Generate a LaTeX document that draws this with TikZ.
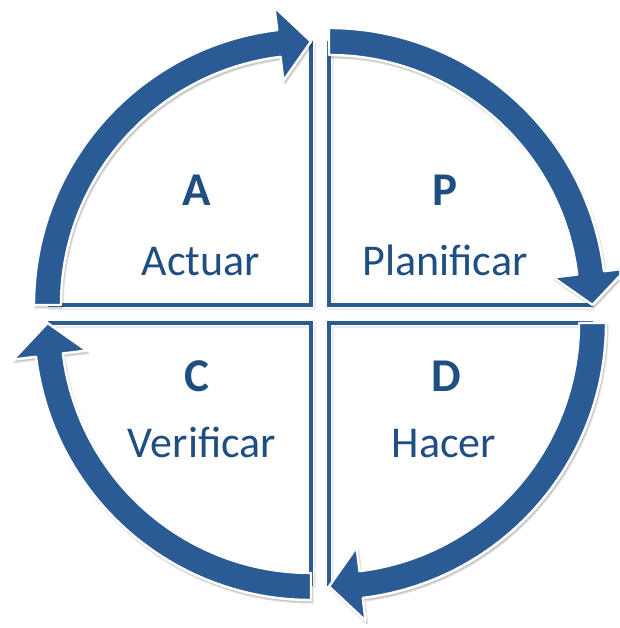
\documentclass[tikz,border=0pt]{standalone}
\usepackage{fontspec}
\setmainfont{Carlito}
\definecolor{arrowblue}{HTML}{2A5B94}
\definecolor{textblue}{HTML}{1F4E82}
\begin{document}
\begin{tikzpicture}[x=1pt,y=1pt,
  band/.style={fill=arrowblue, draw=white, line width=2.4pt, line join=round},
  bandshadow/.style={fill=black, draw=black, line width=2.4pt, opacity=0.12, line join=round},
  edgeline/.style={draw=arrowblue, line width=3.2pt, line join=miter},
  edgehalo/.style={draw=white, line width=6pt, line join=miter},
  edgeshadow/.style={draw=black, line width=6pt, opacity=0.08, line join=miter},
  letter/.style={text=textblue, font=\fontsize{47}{52}\selectfont\bfseries, anchor=base, inner sep=0pt},
  word/.style={text=textblue, font=\fontsize{44}{50}\selectfont, anchor=base, inner sep=0pt}]
\useasboundingbox (0,0) rectangle (619,628);
\clip (0,0) rectangle (619,628);
\def\Rin{250}\def\Rout{277}\def\Rmid{263.5}\def\Hin{226}\def\Hout{300}
% radial edge lines of the four quadrants
\foreach \cx/\cy/\sa/\ea in {311/323/180/90,329/323/90/0,329/305/0/-90,311/305/-90/-180}{
  \begin{scope}[shift={(\cx,\cy)}]
    \draw[edgeshadow, xshift=1.5pt, yshift=-2pt] (\sa:\Rmid) -- (0,0) -- (\ea:\Rmid);
    \draw[edgehalo] (\sa:\Rmid) -- (0,0) -- (\ea:\Rmid);
    \draw[edgeline] (\sa:\Rmid) -- (0,0) -- (\ea:\Rmid);
  \end{scope}
}
% curved arrows
\foreach \cx/\cy/\sa/\ea in {311/323/180/90,329/323/90/0,329/305/0/-90,311/305/-90/-180}{
  \begin{scope}[shift={(\cx,\cy)}]
    \pgfmathsetmacro\hb{\ea+7}
    \path[bandshadow, xshift=1.5pt, yshift=-2.5pt]
      (\sa:\Rout) arc[start angle=\sa, end angle=\hb, radius=\Rout]
      -- (\hb:\Hout) -- (\ea:\Rmid) -- (\hb:\Hin) -- (\hb:\Rin)
      arc[start angle=\hb, end angle=\sa, radius=\Rin] -- cycle;
    \draw[band]
      (\sa:\Rout) arc[start angle=\sa, end angle=\hb, radius=\Rout]
      -- (\hb:\Hout) -- (\ea:\Rmid) -- (\hb:\Hin) -- (\hb:\Rin)
      arc[start angle=\hb, end angle=\sa, radius=\Rin] -- cycle;
  \end{scope}
}
% labels
\node[letter] (lA) at (197,422) {A};
\node[word] (wA) at (201,352) {Actuar};
\node[letter] (lP) at (445,422) {P};
\node[word] (wP) at (445,352) {Planificar};
\node[letter] (lC) at (197,236) {C};
\node[word] (wC) at (202,170) {Verificar};
\node[letter] (lD) at (446,236) {D};
\node[word] (wD) at (444,170) {Hacer};
\end{tikzpicture}
\end{document}
